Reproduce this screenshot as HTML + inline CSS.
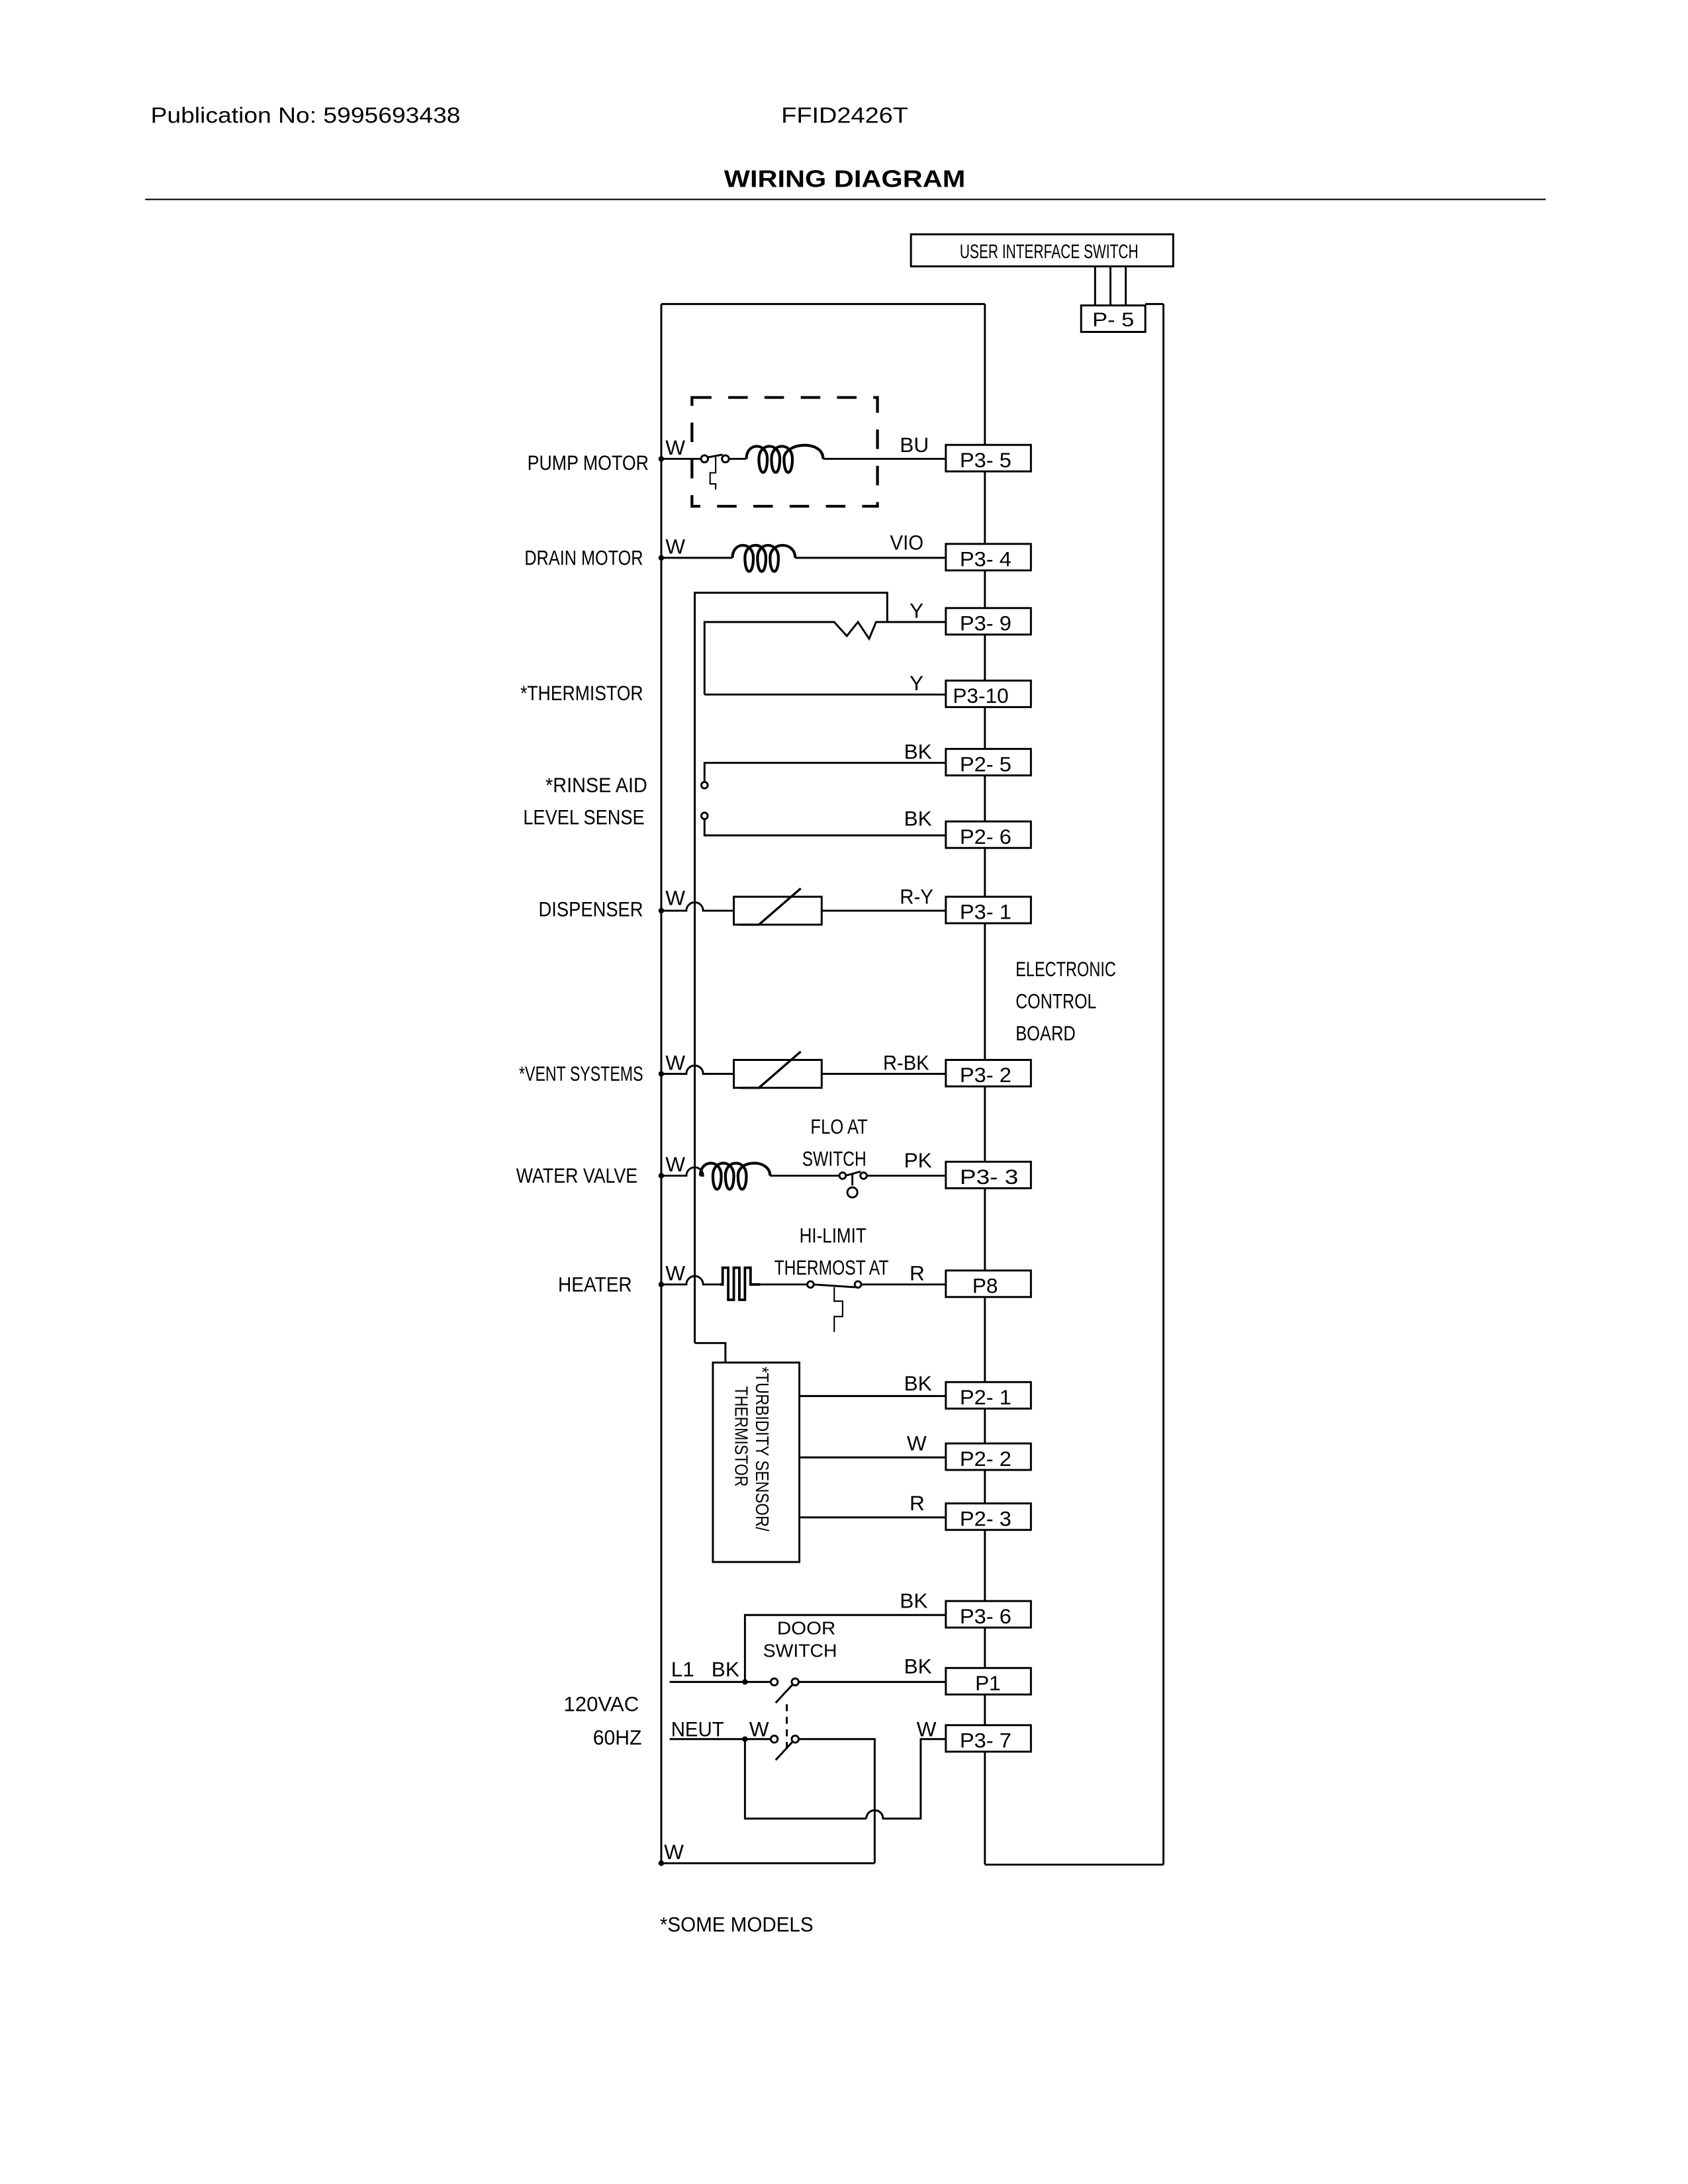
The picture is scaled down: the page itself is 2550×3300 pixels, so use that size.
<!DOCTYPE html>
<html><head><meta charset="utf-8"><style>
html,body{margin:0;padding:0;background:#fff}
svg{display:block}
text{font-family:"Liberation Sans",sans-serif;fill:#000}
</style></head><body>
<svg width="2550" height="3300" viewBox="0 0 1210 1566" xmlns="http://www.w3.org/2000/svg">
<text x="108" y="88" font-size="16" textLength="222" lengthAdjust="spacingAndGlyphs">Publication No: 5995693438</text>
<text x="560" y="88" font-size="16" textLength="91" lengthAdjust="spacingAndGlyphs">FFID2426T</text>
<text x="519" y="134" font-size="17" font-weight="bold" textLength="173" lengthAdjust="spacingAndGlyphs">WIRING DIAGRAM</text>
<line x1="104" y1="143" x2="1108" y2="143" stroke="#000" stroke-width="1"/>
<g stroke="#000" stroke-width="1.4" fill="none">
<rect x="653" y="168" width="188" height="23"/>
<line x1="785" y1="191" x2="785" y2="219"/><line x1="796" y1="191" x2="796" y2="219"/><line x1="807" y1="191" x2="807" y2="219"/>
<rect x="775" y="219" width="46" height="19"/>
<line x1="474" y1="218" x2="474" y2="1336"/>
<line x1="474" y1="218" x2="706" y2="218"/>
<line x1="706" y1="218" x2="706" y2="1337"/>
<line x1="834" y1="218" x2="834" y2="1337"/>
<line x1="706" y1="1337" x2="834" y2="1337"/>
<line x1="821" y1="218" x2="834" y2="218"/>
<g fill="#fff">
<rect x="678" y="319" width="61" height="19"/>
<rect x="678" y="390" width="61" height="19"/>
<rect x="678" y="436" width="61" height="19"/>
<rect x="678" y="488" width="61" height="19"/>
<rect x="678" y="537" width="61" height="19"/>
<rect x="678" y="589" width="61" height="19"/>
<rect x="678" y="643" width="61" height="19"/>
<rect x="678" y="760" width="61" height="19"/>
<rect x="678" y="833" width="61" height="19"/>
<rect x="678" y="911" width="61" height="19"/>
<rect x="678" y="991" width="61" height="19"/>
<rect x="678" y="1035" width="61" height="19"/>
<rect x="678" y="1078" width="61" height="19"/>
<rect x="678" y="1148" width="61" height="19"/>
<rect x="678" y="1196" width="61" height="19"/>
<rect x="678" y="1237" width="61" height="19"/>
</g>
<rect x="496" y="285" width="133" height="78" stroke-width="2" stroke-dasharray="14,12"/>
<line x1="474" y1="329" x2="502" y2="329"/>
<circle cx="505" cy="329" r="2.5"/><circle cx="520" cy="329" r="2.5"/>
<line x1="507" y1="328" x2="518" y2="326"/>
<polyline points="513,327 513,339 509,339 509,347 513,347 513,351" stroke-width="1"/>
<line x1="523" y1="329" x2="535" y2="329"/>
<path d="M535,329 C535,317 550,317 550,329 C550,342 544,342 544,329 C544,317 559,317 559,329 C559,342 553,342 553,329 C553,317 568,317 568,329 C568,342 562,342 562,329 C562,317 590,315 590,329" stroke-width="2"/>
<line x1="590" y1="329" x2="678" y2="329"/>
<line x1="474" y1="400" x2="525" y2="400"/>
<path d="M525,400 C525,388 540,388 540,400 C540,413 534,413 534,400 C534,388 549,388 549,400 C549,413 543,413 543,400 C543,388 558,388 558,400 C558,413 552,413 552,400 C552,388 570,388 570,400" stroke-width="2"/>
<line x1="570" y1="400" x2="678" y2="400"/>
<polyline points="498,963 498,425 636,425 636,446"/>
<polyline points="505,498 505,446 598,446 607,456 615,446 623,458 628,446 678,446"/>
<line x1="505" y1="498" x2="678" y2="498"/>
<polyline points="678,547 505,547 505,561"/>
<circle cx="505" cy="563" r="2.3"/><circle cx="505" cy="585" r="2.3"/>
<polyline points="505,587 505,599 678,599"/>
<path d="M474,653 L492,653 A6,6 0 0 1 504,653 L526,653"/>
<rect x="526" y="643" width="63" height="20"/>
<polyline points="530,663 544,663 574,637" stroke-width="1.6"/>
<line x1="589" y1="653" x2="678" y2="653"/>
<path d="M474,770 L492,770 A6,6 0 0 1 504,770 L526,770"/>
<rect x="526" y="760" width="63" height="20"/>
<polyline points="530,780 544,780 574,754" stroke-width="1.6"/>
<line x1="589" y1="770" x2="678" y2="770"/>
<path d="M474,843 L492,843 A6,6 0 0 1 504,843 L502,843"/>
<path d="M502,843 C502,831 517,831 517,843 C517,856 511,856 511,843 C511,831 526,831 526,843 C526,856 520,856 520,843 C520,831 535,831 535,843 C535,856 529,856 529,843 C529,831 552,831 552,843" stroke-width="2"/>
<line x1="552" y1="843" x2="602" y2="843"/>
<circle cx="604" cy="843" r="2.3"/><circle cx="619" cy="843" r="2.3"/>
<line x1="606" y1="843" x2="617" y2="840"/>
<line x1="611" y1="841" x2="611" y2="850"/>
<circle cx="611" cy="855" r="3.6"/>
<line x1="621" y1="843" x2="678" y2="843"/>
<path d="M474,921 L492,921 A6,6 0 0 1 504,921 L516,921"/>
<polyline points="516,921 518,921 518,909 522,909 522,932 526,932 526,909 530,909 530,932 534,932 534,909 538,909 538,921 545,921" stroke-width="1.8"/>
<line x1="545" y1="921" x2="579" y2="921"/>
<circle cx="581" cy="921" r="2.3"/><circle cx="615" cy="921" r="2.3"/>
<line x1="583" y1="921" x2="613" y2="923"/>
<polyline points="598,923 598,933 604,933 604,944 598,944 598,955" stroke-width="1"/>
<line x1="617" y1="921" x2="678" y2="921"/>
<polyline points="498,963 520,963 520,977"/>
<rect x="511" y="977" width="62" height="143"/>
<line x1="573" y1="1001" x2="678" y2="1001"/>
<line x1="573" y1="1045" x2="678" y2="1045"/>
<line x1="573" y1="1088" x2="678" y2="1088"/>
<polyline points="534,1206 534,1158 678,1158"/>
<line x1="480" y1="1206" x2="553" y2="1206"/>
<circle cx="555" cy="1206" r="2.5"/><circle cx="570" cy="1206" r="2.5"/>
<line x1="568" y1="1208" x2="556" y2="1221"/>
<line x1="572" y1="1206" x2="678" y2="1206"/>
<line x1="564" y1="1222" x2="564" y2="1258" stroke-dasharray="5,4"/>
<line x1="480" y1="1247" x2="553" y2="1247"/>
<circle cx="555" cy="1247" r="2.5"/><circle cx="570" cy="1247" r="2.5"/>
<line x1="568" y1="1249" x2="556" y2="1262"/>
<polyline points="572,1247 627,1247 627,1336"/>
<polyline points="534,1247 534,1304 621,1304"/>
<path d="M621,1304 A6,6 0 0 1 633,1304 L660,1304 L660,1247 L678,1247"/>
<line x1="474" y1="1336" x2="627" y2="1336"/>
</g>
<g fill="#000">
<circle cx="474" cy="329" r="2"/><circle cx="474" cy="400" r="2"/><circle cx="474" cy="653" r="2"/><circle cx="474" cy="770" r="2"/><circle cx="474" cy="843" r="2"/><circle cx="474" cy="921" r="2"/><circle cx="474" cy="1336" r="2"/><circle cx="534" cy="1206" r="2"/><circle cx="534" cy="1247" r="2"/>
</g>
<g font-size="15" lengthAdjust="spacingAndGlyphs">
<text x="688" y="185" font-size="14" textLength="128" lengthAdjust="spacingAndGlyphs">USER INTERFACE SWITCH</text>
<text x="783" y="234" font-size="14" textLength="30" lengthAdjust="spacingAndGlyphs">P- 5</text>
<text x="688" y="335" textLength="37" lengthAdjust="spacingAndGlyphs">P3- 5</text>
<text x="688" y="406" textLength="37" lengthAdjust="spacingAndGlyphs">P3- 4</text>
<text x="688" y="452" textLength="37" lengthAdjust="spacingAndGlyphs">P3- 9</text>
<text x="683" y="504" textLength="40" lengthAdjust="spacingAndGlyphs">P3-10</text>
<text x="688" y="553" textLength="37" lengthAdjust="spacingAndGlyphs">P2- 5</text>
<text x="688" y="605" textLength="37" lengthAdjust="spacingAndGlyphs">P2- 6</text>
<text x="688" y="659" textLength="37" lengthAdjust="spacingAndGlyphs">P3- 1</text>
<text x="688" y="776" textLength="37" lengthAdjust="spacingAndGlyphs">P3- 2</text>
<text x="688" y="849" textLength="42" lengthAdjust="spacingAndGlyphs">P3-  3</text>
<text x="697" y="927">P8</text>
<text x="688" y="1007" textLength="37" lengthAdjust="spacingAndGlyphs">P2- 1</text>
<text x="688" y="1051" textLength="37" lengthAdjust="spacingAndGlyphs">P2- 2</text>
<text x="688" y="1094" textLength="37" lengthAdjust="spacingAndGlyphs">P2- 3</text>
<text x="688" y="1164" textLength="37" lengthAdjust="spacingAndGlyphs">P3- 6</text>
<text x="699" y="1212">P1</text>
<text x="688" y="1253" textLength="37" lengthAdjust="spacingAndGlyphs">P3- 7</text>
<text x="378" y="337" textLength="87" lengthAdjust="spacingAndGlyphs">PUMP MOTOR</text>
<text x="376" y="405" textLength="85" lengthAdjust="spacingAndGlyphs">DRAIN MOTOR</text>
<text x="373" y="502" textLength="88" lengthAdjust="spacingAndGlyphs">*THERMISTOR</text>
<text x="391" y="568" textLength="73" lengthAdjust="spacingAndGlyphs">*RINSE AID</text>
<text x="375" y="591" textLength="87" lengthAdjust="spacingAndGlyphs">LEVEL SENSE</text>
<text x="386" y="657" textLength="75" lengthAdjust="spacingAndGlyphs">DISPENSER</text>
<text x="372" y="775" textLength="89" lengthAdjust="spacingAndGlyphs">*VENT SYSTEMS</text>
<text x="370" y="848" textLength="87" lengthAdjust="spacingAndGlyphs">WATER VALVE</text>
<text x="400" y="926" textLength="53" lengthAdjust="spacingAndGlyphs">HEATER</text>
<text x="404" y="1227" textLength="54" lengthAdjust="spacingAndGlyphs">120VAC</text>
<text x="425" y="1251" textLength="35" lengthAdjust="spacingAndGlyphs">60HZ</text>
<text x="477" y="326">W</text><text x="645" y="324">BU</text>
<text x="477" y="397">W</text><text x="638" y="394" textLength="24" lengthAdjust="spacingAndGlyphs">VIO</text>
<text x="652" y="443">Y</text><text x="652" y="495">Y</text>
<text x="648" y="544">BK</text><text x="648" y="592">BK</text>
<text x="477" y="649">W</text><text x="645" y="648" textLength="24" lengthAdjust="spacingAndGlyphs">R-Y</text>
<text x="477" y="767">W</text><text x="633" y="767" textLength="33" lengthAdjust="spacingAndGlyphs">R-BK</text>
<text x="581" y="813" textLength="41" lengthAdjust="spacingAndGlyphs">FLO AT</text>
<text x="575" y="836" textLength="46" lengthAdjust="spacingAndGlyphs">SWITCH</text>
<text x="477" y="840">W</text><text x="648" y="837">PK</text>
<text x="573" y="891" textLength="48" lengthAdjust="spacingAndGlyphs">HI-LIMIT</text>
<text x="555" y="914" textLength="82" lengthAdjust="spacingAndGlyphs">THERMOST AT</text>
<text x="477" y="918">W</text><text x="652" y="918">R</text>
<text x="648" y="997">BK</text><text x="650" y="1040">W</text><text x="652" y="1083">R</text>
<text x="645" y="1153">BK</text><text x="648" y="1200">BK</text>
<text x="481" y="1202">L1</text><text x="510" y="1202">BK</text>
<text x="481" y="1245" textLength="38" lengthAdjust="spacingAndGlyphs">NEUT</text><text x="537" y="1245">W</text><text x="657" y="1245">W</text>
<text x="476" y="1333">W</text>
<text x="728" y="700" textLength="72" lengthAdjust="spacingAndGlyphs">ELECTRONIC</text>
<text x="728" y="723" textLength="58" lengthAdjust="spacingAndGlyphs">CONTROL</text>
<text x="728" y="746" textLength="43" lengthAdjust="spacingAndGlyphs">BOARD</text>
<text x="473" y="1385" textLength="110" lengthAdjust="spacingAndGlyphs">*SOME MODELS</text>
<text x="557" y="1172" font-size="13" textLength="42" lengthAdjust="spacingAndGlyphs">DOOR</text>
<text x="547" y="1188" font-size="13" textLength="53" lengthAdjust="spacingAndGlyphs">SWITCH</text>
<g transform="translate(542,980) rotate(90)" font-size="13"><text x="0" y="0" textLength="118" lengthAdjust="spacingAndGlyphs">*TURBIDITY SENSOR/</text><text x="14" y="15" textLength="72" lengthAdjust="spacingAndGlyphs">THERMISTOR</text></g>
</g>
</svg>
</body></html>
